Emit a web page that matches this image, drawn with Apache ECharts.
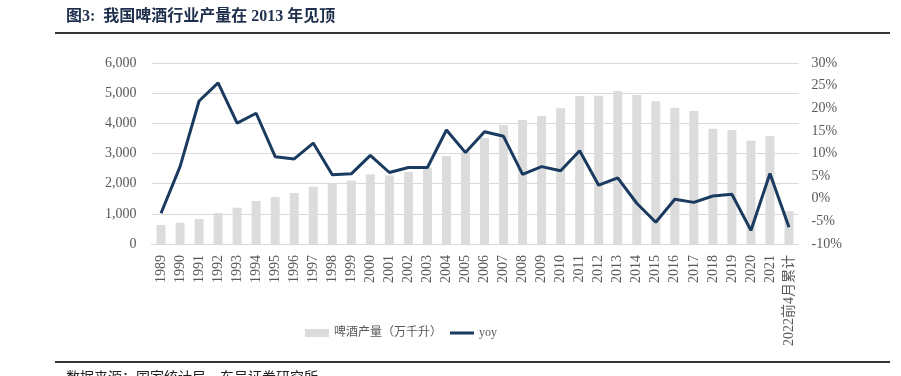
<!DOCTYPE html>
<html>
<head>
<meta charset="utf-8">
<script src="https://cdn.jsdelivr.net/npm/echarts@6/dist/echarts.min.js"></script>
<style>
  html, body { margin: 0; padding: 0; background: #fff; }
  #main { width: 901px; height: 376px; }
</style>
</head>
<body>
<div id="main"></div>
<script>
// 年份
var years = ['1989', '1990', '1991', '1992', '1993', '1994', '1995', '1996', '1997', '1998',
  '1999', '2000', '2001', '2002', '2003', '2004', '2005', '2006', '2007', '2008',
  '2009', '2010', '2011', '2012', '2013', '2014', '2015', '2016', '2017', '2018',
  '2019', '2020', '2021', '2022前4月累计'];

// 啤酒产量（万千升）
var output = [630, 707, 829, 1028, 1204, 1425, 1558, 1690, 1900, 1988,
  2099, 2309, 2274, 2387, 2530, 2917, 3062, 3515, 3945, 4110,
  4243, 4497, 4906, 4917, 5072, 4939, 4729, 4519, 4409, 3823,
  3779, 3425, 3580, 1090];

// yoy (%)
var yoy = [-3.2, 7.1, 21.6, 25.6, 16.7, 18.9, 9.3, 8.8, 12.3, 5.3,
  5.5, 9.6, 5.8, 6.9, 6.9, 15.2, 10.2, 14.8, 13.8, 5.4,
  7.1, 6.2, 10.6, 3.0, 4.6, -1.0, -5.2, -0.1, -0.8, 0.6,
  1.0, -7.0, 5.6, -6.3];

var serif = '"Liberation Serif", "Noto Sans CJK SC", serif';
var grey = '#595959';

var myChart = echarts.init(document.getElementById('main'));

var option = {
    animation: false,
    textStyle: { fontFamily: serif },
    grid: { left: 151.5, right: 102.5, top: 63, bottom: 132, containLabel: false },
    legend: {
        left: 300,
        top: 322,
        itemGap: 8,
        itemWidth: 24,
        itemHeight: 8,
        textStyle: { color: grey, fontSize: 12, fontFamily: serif },
        data: [
            { name: '啤酒产量（万千升）', icon: 'rect' },
            { name: 'yoy', icon: 'path://M0,0 L24,0 L24,3 L0,3 Z', itemStyle: { color: '#1b3a5f' } }
        ]
    },
    xAxis: {
        type: 'category',
        data: years,
        axisLine: { lineStyle: { color: '#d9d9d9', width: 1 } },
        axisTick: { show: false },
        axisLabel: { rotate: 90, interval: 0, color: grey, fontSize: 14, margin: 11, fontFamily: serif }
    },
    yAxis: [
        {
            type: 'value',
            min: 0, max: 6000, interval: 1000,
            axisLine: { show: false },
            axisTick: { show: false },
            splitLine: { lineStyle: { color: '#d9d9d9', width: 1 } },
            axisLabel: {
                color: grey, fontSize: 14, margin: 15, fontFamily: serif,
                formatter: function (v) { return v.toLocaleString('en-US'); }
            }
        },
        {
            type: 'value',
            min: -10, max: 30, interval: 5,
            axisLine: { show: false },
            axisTick: { show: false },
            splitLine: { show: false },
            axisLabel: { color: grey, fontSize: 14, margin: 13, fontFamily: serif, formatter: '{value}%' }
        }
    ],
    series: [
        {
            name: '啤酒产量（万千升）',
            type: 'bar',
            data: output,
            barWidth: 9,
            itemStyle: { color: '#dcdcdc' }
        },
        {
            name: 'yoy',
            type: 'line',
            yAxisIndex: 1,
            data: yoy,
            symbol: 'none',
            lineStyle: { color: '#1b3a5f', width: 3 },
            itemStyle: { color: '#1b3a5f' }
        }
    ],
    graphic: [
        {
            type: 'text', left: 66, top: 9,
            style: { text: '图3:  我国啤酒行业产量在 2013 年见顶', fill: '#1d2f4c', font: 'bold 16px ' + serif }
        },
        {
            type: 'rect', shape: { x: 55, y: 32, width: 835, height: 2 },
            style: { fill: '#333' }
        },
        {
            type: 'rect', shape: { x: 55, y: 361, width: 835, height: 2 },
            style: { fill: '#333' }
        },
        {
            type: 'text', left: 66, top: 371,
            style: { text: '数据来源：国家统计局，东吴证券研究所', fill: '#222', font: '14px ' + serif }
        }
    ]
};

myChart.setOption(option);
</script>
</body>
</html>
